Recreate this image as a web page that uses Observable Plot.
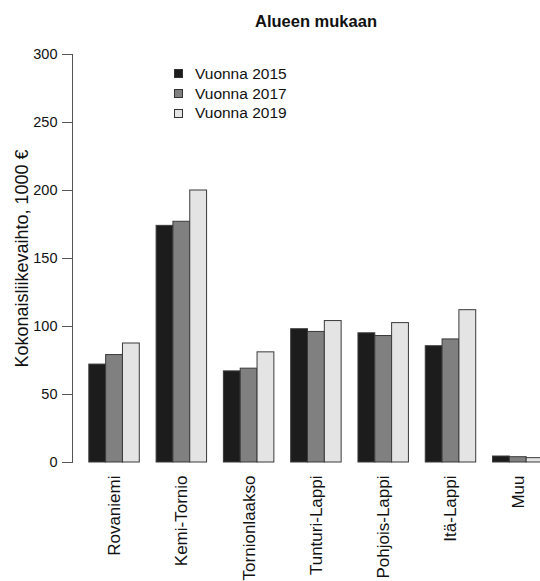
<!DOCTYPE html>
<html>
<head>
<meta charset="utf-8">
<script src="https://cdn.jsdelivr.net/npm/d3@7"></script>
<script src="https://cdn.jsdelivr.net/npm/@observablehq/plot@0.6"></script>
<style>
  html, body { margin: 0; padding: 0; overflow: hidden; background: #fff; }
  body { font-family: "Liberation Sans", Arial, sans-serif; color: #111; }
  #wrap { position: relative; width: 540px; height: 581px; overflow: hidden; }
  #title { position: absolute; left: 0; top: 13px; width: 632px; text-align: center;
           font-weight: bold; font-size: 16.5px; line-height: 16px; }
  #chart { position: absolute; left: 0; top: 40px; width: 560px; }
  #chart svg { max-width: none !important; }
  #legend { position: absolute; left: 174px; top: 64px; font-size: 15.5px; }
  .row { display: flex; align-items: center; height: 19.7px; }
  .sw { width: 7px; height: 7px; border: 1px solid #333; margin-right: 12px; }
</style>
</head>
<body>
<div id="wrap">
  <div id="title"></div>
  <div id="chart"></div>
  <div id="legend"></div>
</div>
<script>
const title = "Alueen mukaan";
const yLabel = "Kokonaisliikevaihto, 1000 €";
const regions = ["Rovaniemi", "Kemi-Tornio", "Tornionlaakso", "Tunturi-Lappi", "Pohjois-Lappi", "Itä-Lappi", "Muu"];
const years = ["2015", "2017", "2019"];
const seriesLabels = ["Vuonna 2015", "Vuonna 2017", "Vuonna 2019"];
const v2015 = [72, 174, 67, 98, 95, 85.5, 4.4];
const v2017 = [79, 177, 69, 96, 93, 90.5, 3.9];
const v2019 = [87.5, 200, 81, 104, 102.5, 112, 3.2];
const yTicks = [0, 50, 100, 150, 200, 250, 300];
const colors = ["#1c1c1c", "#808080", "#e4e4e4"];

const series = [v2015, v2017, v2019];
const data = [];
regions.forEach((r, i) => years.forEach((y, j) => data.push({region: r, year: y, key: r + "|" + y, value: series[j][i]})));
const domain = regions.flatMap(r => [r + "|gap", ...years.map(y => r + "|" + y)]);

document.getElementById("title").textContent = title;

const chart = Plot.plot({
  width: 544,
  height: 545,
  marginLeft: 72,
  marginRight: 1,
  marginTop: 14,
  marginBottom: 123,
  style: {fontFamily: "Liberation Sans, Arial, sans-serif", color: "#111", background: "transparent", maxWidth: "none"},
  x: {type: "band", domain, paddingInner: 0, paddingOuter: 0, round: false},
  y: {domain: [0, 300]},
  color: {domain: years, range: colors},
  marks: [
    Plot.barY(data, {x: "key", y: "value", fill: "year", stroke: "#3a3a3a", strokeWidth: 1}),
    Plot.frame({anchor: "left", stroke: "#555"}),
    Plot.axisY({ticks: yTicks, tickSize: 10, tickPadding: 5, fontSize: 14.5, stroke: "#555", label: null}),
    Plot.axisY({ticks: [], tickSize: 0, fontSize: 18, label: yLabel, labelArrow: false, labelAnchor: "center", labelOffset: 57}),
    Plot.axisX({ticks: regions.map(r => r + "|2017"), tickFormat: d => d.split("|")[0], tickRotate: -90, tickSize: 0, tickPadding: 13, fontSize: 17, label: null})
  ]
});
document.getElementById("chart").appendChild(chart);

const legend = document.getElementById("legend");
seriesLabels.forEach((t, i) => {
  const row = document.createElement("div");
  row.className = "row";
  const sw = document.createElement("div");
  sw.className = "sw";
  sw.style.background = colors[i];
  const tx = document.createElement("span");
  tx.textContent = t;
  row.appendChild(sw);
  row.appendChild(tx);
  legend.appendChild(row);
});
</script>
</body>
</html>
